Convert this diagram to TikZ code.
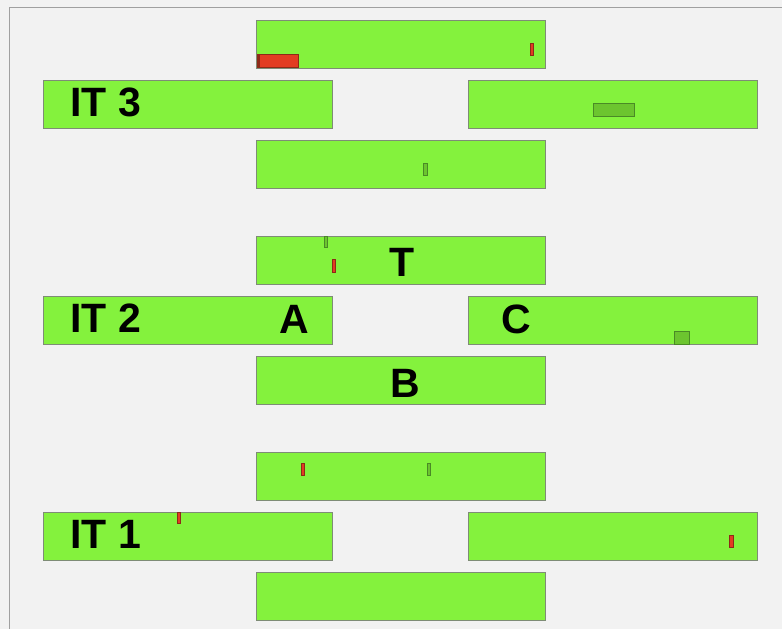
\documentclass[tikz,border=0pt]{standalone}
\usepackage{fontspec}
\setmainfont{Liberation Sans}
\usetikzlibrary{positioning}
\definecolor{paper}{HTML}{F2F2F2}
\definecolor{frameline}{HTML}{A0A0A0}
\definecolor{barfill}{HTML}{84F23D}
\definecolor{barline}{HTML}{7E8C76}
\definecolor{hitred}{HTML}{E23D22}
\definecolor{hitredline}{HTML}{8E2A18}
\definecolor{hitgreen}{HTML}{6CC52F}
\definecolor{hitgreenline}{HTML}{4A8A26}
\tikzset{
  % ---- iteration bars ----------------------------------------------
  bar/.style      = {rectangle, draw=barline, fill=barfill, line width=1pt,
                     minimum width=289pt, minimum height=48pt,
                     inner sep=0pt, anchor=north west},
  tag/.style      = {font=\fontsize{41}{41}\selectfont\bfseries,
                     inner sep=0pt, anchor=base},
  % ---- hits inside the bars ----------------------------------------
  redhit/.style   = {draw=hitredline, fill=hitred, line width=.8pt},
  greenhit/.style = {draw=hitgreenline, fill=hitgreen, line width=.8pt},
  framebar/.style = {draw=frameline, line width=1.6pt},
}
\begin{document}
\begin{tikzpicture}[x=1pt,y=-1pt]
  \fill[paper] (0,0) rectangle (782,629);
  \useasboundingbox (0,0) rectangle (782,629);
  \draw[framebar] (9.5,629) -- (9.5,7.5) -- (782,7.5);
  % ---- three iterations, T on top, A left, C right, B below -------
  \foreach \g/\dy in {3/0,2/216,1/432}{
    \node[bar] (T\g) at (256,20+\dy) {};
    \node[bar] (A\g) at (43,80+\dy) {};
    \node[bar] (C\g) at (468,80+\dy) {};
    \node[bar] (B\g) at (256,140+\dy) {};
    \node[tag, anchor=base west] (it\g) at (70,116+\dy) {IT \g};
  }
  \node[tag] (tT) at (402.5,276.5) {T};
  \node[tag] (tA) at (294.5,333) {A};
  \node[tag] (tB) at (405,397.5) {B};
  \node[tag] (tC) at (516.5,333) {C};
  % ---- IT 3 ----
  \draw[redhit] (257,54) rectangle (298,67);
  \draw[hitredline, line width=1.4pt] (259,54.5) -- (259,66.5);
  \draw[redhit] (530.5,43.5) rectangle (533,55.5);
  \draw[greenhit] (593,103) rectangle (634,116);
  \draw[greenhit] (423.5,163.5) rectangle (427,175);
  % ---- IT 2 ----
  \draw[greenhit] (324.5,236.5) rectangle (327.5,247);
  \draw[redhit] (332.5,259.5) rectangle (335.5,272);
  \draw[greenhit] (674,331) rectangle (689,344);
  % ---- IT 1 ----
  \draw[redhit] (301.5,463.5) rectangle (304.5,475);
  \draw[greenhit] (427.5,463.5) rectangle (430.5,475);
  \draw[redhit] (177.5,512.5) rectangle (180.5,523.5);
  \draw[redhit] (729.5,535.5) rectangle (733.5,547);
\end{tikzpicture}
\end{document}
